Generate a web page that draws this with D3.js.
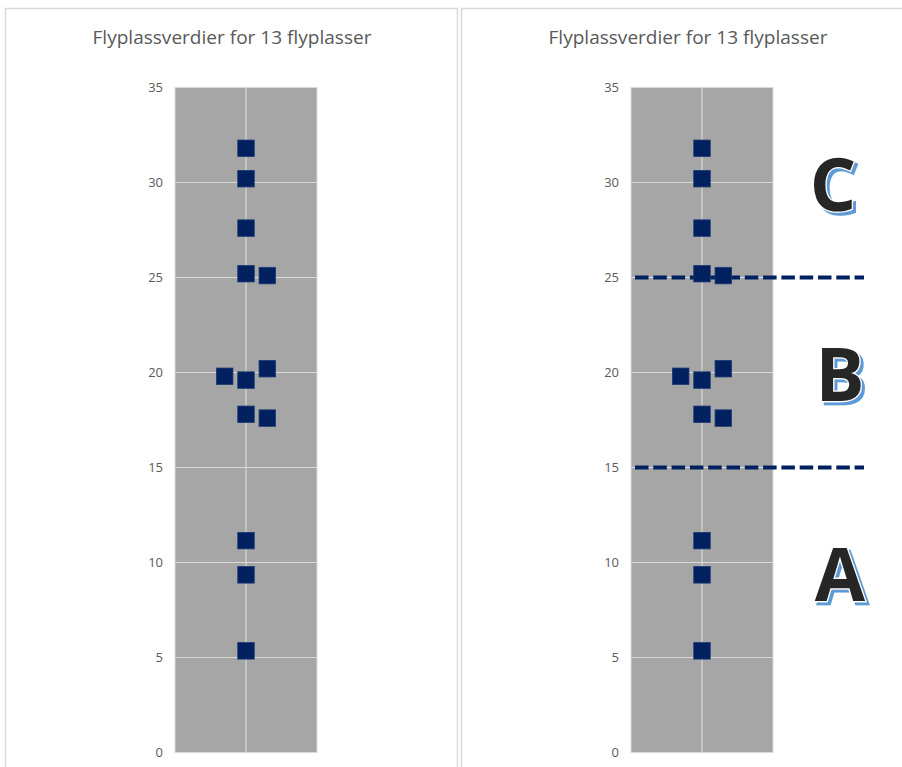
<!DOCTYPE html>
<html>
<head>
<meta charset="utf-8">
<script src="https://cdn.jsdelivr.net/npm/d3@7"></script>
<style>
  html, body { margin: 0; padding: 0; background: #fff; }
  svg { display: block; }
</style>
</head>
<body>
<svg id="chart" width="902" height="767"></svg>
<script>
// Airport scores: horizontal jitter position and value per airport
const title = "Flyplassverdier for 13 flyplasser";
const xPos   = [1, 1, 1, 1, 1.3, 0.7, 1, 1.3, 1, 1.3, 1, 1, 1];
const values = [31.8, 30.2, 27.6, 25.2, 25.1, 19.8, 19.6, 20.2, 17.8, 17.6, 11.15, 9.35, 5.35];
const yTicks = [0, 5, 10, 15, 20, 25, 30, 35];
// Class boundaries and the class labels shown beside the right panel
const thresholds = [25, 15];
const classLabels = ["C", "B", "A"];
const classLabelValues = [30, 20, 9.45];

const svg = d3.select("#chart");

// blue offset shadow for the class letters
const defs = svg.append("defs");
const f = defs.append("filter").attr("id", "letterShadow")
  .attr("x", "-20%").attr("y", "-20%").attr("width", "150%").attr("height", "150%");
f.append("feDropShadow")
  .attr("dx", 3).attr("dy", 3).attr("stdDeviation", 0.4)
  .attr("flood-color", "#5b9bd5").attr("flood-opacity", 1);

const yScale = d3.scaleLinear().domain([0, 35]).range([752.5, 87.5]);
const fontBody = "'Open Sans', 'DejaVu Sans', sans-serif";

function panel(offsetX, annotate) {
  const g = svg.append("g").attr("transform", `translate(${offsetX},0)`);

  // chart frame
  g.append("rect")
    .attr("x", 5.5).attr("y", 8.5)
    .attr("width", annotate ? 460 : 452).attr("height", 780)
    .attr("fill", "#fff")
    .attr("stroke", "#d9d9d9").attr("stroke-width", 1.5);

  g.append("text")
    .attr("x", 232).attr("y", 43.5)
    .attr("text-anchor", "middle")
    .attr("font-family", fontBody)
    .attr("font-size", 19)
    .attr("fill", "#595959")
    .attr("textLength", 279).attr("lengthAdjust", "spacingAndGlyphs")
    .text(title);

  const xScale = d3.scaleLinear().domain([0, 2]).range([175, 317]);

  // plot area
  g.append("rect")
    .attr("x", 175).attr("y", yScale(35))
    .attr("width", 142).attr("height", yScale(0) - yScale(35))
    .attr("fill", "#a6a6a6")
    .attr("stroke", "#d9d9d9").attr("stroke-width", 1);

  // horizontal gridlines
  g.append("g").selectAll("line").data(yTicks.filter(t => t > 0 && t < 35)).join("line")
    .attr("x1", 175).attr("x2", 317)
    .attr("y1", d => yScale(d)).attr("y2", d => yScale(d))
    .attr("stroke", "#d9d9d9").attr("stroke-width", 1.2);

  // vertical gridline
  g.append("line")
    .attr("x1", xScale(1)).attr("x2", xScale(1))
    .attr("y1", yScale(35)).attr("y2", yScale(0))
    .attr("stroke", "#d9d9d9").attr("stroke-width", 1.2);

  // y axis labels
  const axis = d3.axisLeft(yScale).tickValues(yTicks).tickSize(0).tickPadding(12);
  const ax = g.append("g").attr("transform", "translate(175,0)").call(axis);
  ax.select(".domain").remove();
  ax.selectAll("text")
    .attr("font-family", fontBody)
    .attr("font-size", 13)
    .attr("fill", "#595959");

  // class boundaries
  if (annotate) {
    g.append("g").selectAll("line").data(thresholds).join("line")
      .attr("x1", 179).attr("x2", 408)
      .attr("y1", d => yScale(d)).attr("y2", d => yScale(d))
      .attr("stroke", "#002060").attr("stroke-width", 4)
      .attr("stroke-dasharray", "13.5,4.8");
  }

  // markers
  const size = 16.5;
  g.append("g").selectAll("rect").data(values).join("rect")
    .attr("x", (d, i) => xScale(xPos[i]) - size / 2)
    .attr("y", d => yScale(d) - size / 2)
    .attr("width", size).attr("height", size)
    .attr("fill", "#002060")
    .attr("stroke", "#1c3a73").attr("stroke-width", 0.8);

  if (annotate) {
    const labelX = [377, 384, 384];
    g.append("g").selectAll("text").data(classLabels).join("text")
      .attr("x", (d, i) => labelX[i])
      .attr("y", (d, i) => yScale(classLabelValues[i]))
      .attr("text-anchor", "middle").attr("dominant-baseline", "central")
      .attr("font-family", fontBody).attr("font-weight", 700)
      .attr("font-size", 73)
      .attr("fill", "#262626")
      .attr("stroke", "#fff").attr("stroke-width", 2.5)
      .attr("paint-order", "stroke")
      .attr("filter", "url(#letterShadow)")
      .text(d => d);
  }
}

panel(0, false);
panel(456, true);
</script>
</body>
</html>
